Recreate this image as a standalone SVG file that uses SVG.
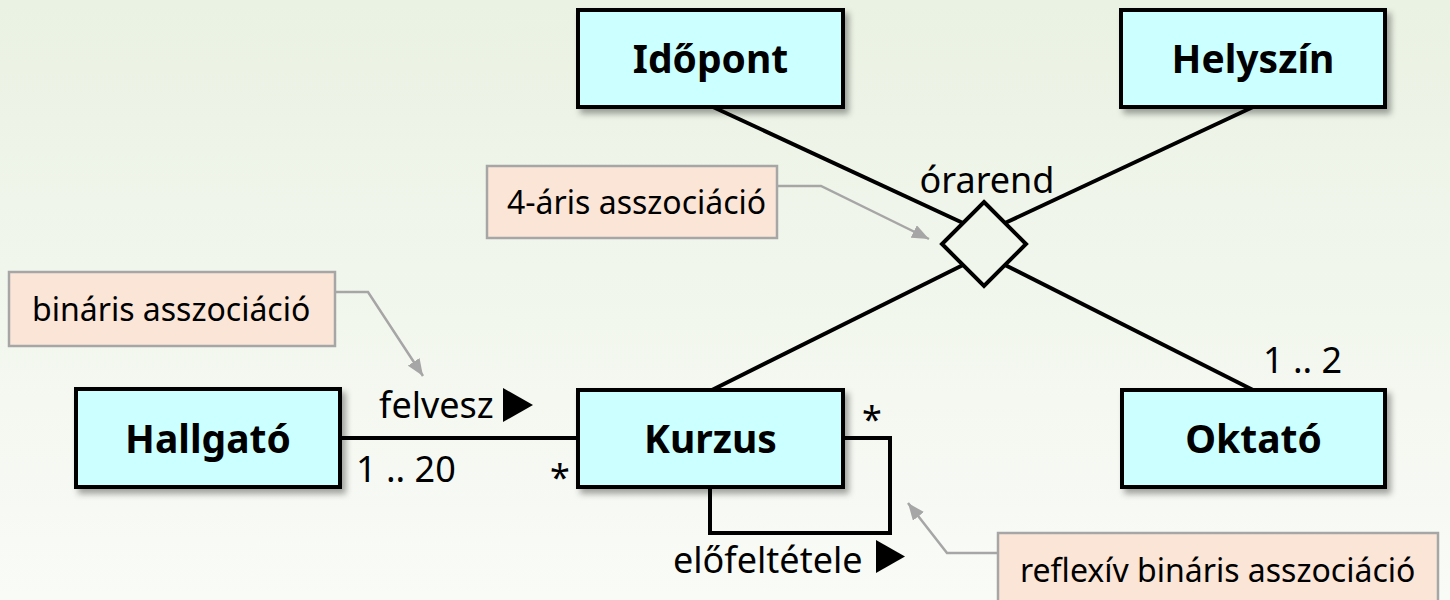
<svg xmlns="http://www.w3.org/2000/svg" width="1450" height="600" viewBox="0 0 1450 600">
  <defs>
    <linearGradient id="bg" x1="0" y1="0" x2="0" y2="1">
      <stop offset="0" stop-color="#EAF2E3"/>
      <stop offset="1" stop-color="#F9FBF7"/>
    </linearGradient>
    <filter id="shadow" x="-10%" y="-20%" width="130%" height="150%">
      <feDropShadow dx="4" dy="5" stdDeviation="3" flood-color="#000" flood-opacity="0.35"/>
    </filter>
    <marker id="grayArrow" markerUnits="userSpaceOnUse" markerWidth="18" markerHeight="14" refX="17" refY="7" orient="auto">
      <path d="M0,0 L17,7 L0,14 Z" fill="#A6A6A6"/>
    </marker>
    <style>
      .cls rect { fill: #CCFFFF; stroke: #000; stroke-width: 4; filter: url(#shadow); }
      .cls text { font-family: "Noto Sans", "Open Sans", sans-serif; font-weight: bold; font-size: 39px; text-anchor: middle; fill: #000; }
      .note rect { fill: #FBE5D6; stroke: #A6A6A6; stroke-width: 2.5; }
      .note text { font-family: "Noto Sans", "Open Sans", sans-serif; font-size: 32px; fill: #000; }
      .lbl { font-family: "Noto Sans", "Open Sans", sans-serif; font-size: 36px; fill: #000; }
      .assoc { fill: none; stroke: #000; stroke-width: 4; }
      .callout { fill: none; stroke: #A6A6A6; stroke-width: 2.5; marker-end: url(#grayArrow); }
    </style>
  </defs>

  <rect x="0" y="0" width="1450" height="600" fill="url(#bg)"/>

  <g id="connectors">
    <path class="assoc" d="M713,107 L963,223"/>
    <path class="assoc" d="M1253,107 L1005,223"/>
    <path class="assoc" d="M712,390 L963,265"/>
    <path class="assoc" d="M1253,390 L1005,265"/>
    <path class="assoc" d="M340,438 H578"/>
    <path class="assoc" d="M843,438 H890 V533 H710 V487"/>
    <path class="callout" d="M335,292 H368 L423,376"/>
    <path class="callout" d="M777,186 H821 L929,239"/>
    <path class="callout" d="M998,553 H947 L908,503"/>
  </g>

  <g id="orarend">
    <path d="M984,202 L1026,244 L984,286 L942,244 Z" fill="none" stroke="#000" stroke-width="4"/>
    <text class="lbl" x="987" y="193" text-anchor="middle">órarend</text>
  </g>

  <g id="idopont" class="cls">
    <rect x="578" y="10" width="265" height="97"/>
    <text x="710.5" y="73">Időpont</text>
  </g>
  <g id="helyszin" class="cls">
    <rect x="1121" y="10" width="264" height="97"/>
    <text x="1253" y="73">Helyszín</text>
  </g>
  <g id="hallgato" class="cls">
    <rect x="76" y="389" width="264" height="98"/>
    <text x="208" y="453">Hallgató</text>
  </g>
  <g id="kurzus" class="cls">
    <rect x="578" y="390" width="265" height="97"/>
    <text x="710.5" y="453">Kurzus</text>
  </g>
  <g id="oktato" class="cls">
    <rect x="1122" y="390" width="263" height="97"/>
    <text x="1253.5" y="453">Oktató</text>
  </g>

  <g id="labels">
    <text class="lbl" x="379" y="418">felvesz</text>
    <path d="M503,388 L503,422 L533,405 Z" fill="#000"/>
    <text class="lbl" x="356" y="482">1 .. 20</text>
    <text class="lbl" x="560" y="490" text-anchor="middle">*</text>
    <text class="lbl" x="872" y="432" text-anchor="middle">*</text>
    <text class="lbl" x="1263" y="373">1 .. 2</text>
    <text class="lbl" x="673" y="573">előfeltétele</text>
    <path d="M876,540 L876,573 L905,556.5 Z" fill="#000"/>
  </g>

  <g id="note-binaris" class="note">
    <rect x="9" y="272" width="326" height="74"/>
    <text x="32" y="321">bináris asszociáció</text>
  </g>
  <g id="note-4aris" class="note">
    <rect x="487" y="166" width="290" height="72"/>
    <text x="507" y="214">4-áris asszociáció</text>
  </g>
  <g id="note-reflexiv" class="note">
    <rect x="998" y="533" width="440" height="80"/>
    <text x="1020" y="582">reflexív bináris asszociáció</text>
  </g>
</svg>
